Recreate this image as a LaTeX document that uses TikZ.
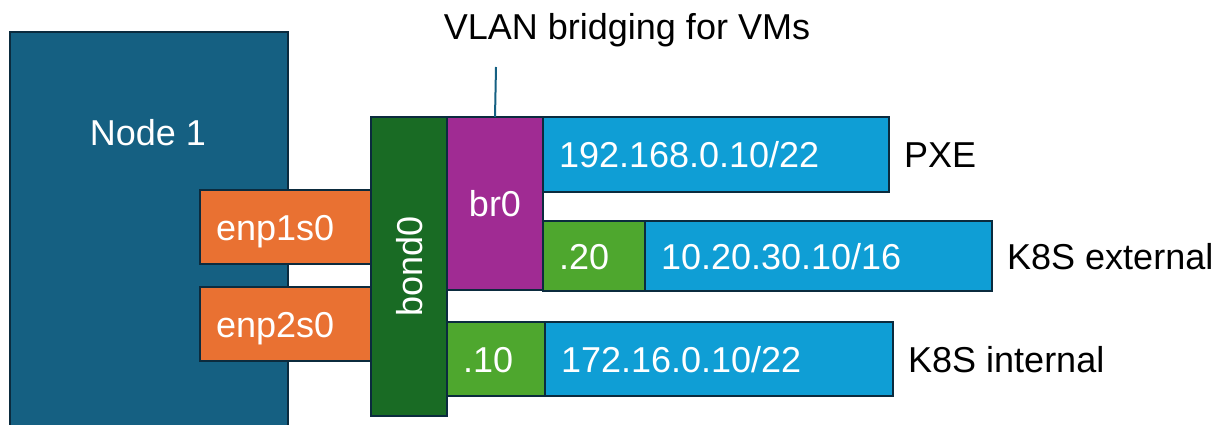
\documentclass[tikz,border=0pt]{standalone}
\usepackage{fontspec}
\setmainfont{Liberation Sans}
\usepackage{tikz}
\usetikzlibrary{positioning}

\definecolor{edgeblue}{HTML}{0B2B3E}
\definecolor{nodeblue}{HTML}{156082}
\definecolor{enporange}{HTML}{E97132}
\definecolor{bondgreen}{HTML}{196B24}
\definecolor{brpurple}{HTML}{A02B93}
\definecolor{ipblue}{HTML}{0F9ED5}
\definecolor{vlangreen}{HTML}{4EA72E}
\newcommand{\bigfont}{\fontsize{36}{40}\selectfont}

\begin{document}
\begin{tikzpicture}
	[   x=1pt,y=-1pt,
	    box/.style={draw=edgeblue,line width=2.5pt,fill=#1,anchor=north west,text=white,inner sep=0pt,outer sep=0pt,font=\bigfont,text height=26pt,text depth=0pt},
	    tbox/.style={text width=#1,inner xsep=16pt,align=left},
	    lab/.style={font=\bigfont,inner sep=0pt,text height=26pt,text depth=0pt},
	]
	\tikzset{vline/.style={draw=nodeblue,line width=2pt}}
	\useasboundingbox (0,0) rectangle (1231,425);
	\clip (0,0) rectangle (1231,425);

	\node[box=nodeblue,minimum width=278pt,minimum height=420pt] (node1) at (10,32) {};
	\node[lab,text=white] (node1-lab) at (148,133) {Node 1};

	\foreach \i/\y in {1/190,2/287}
	{
		\node[box=enporange,tbox=139pt,minimum height=74pt] (enp\i) at (200,\y) {enp\i s0};
	}

	\node[box=bondgreen,anchor=center,rotate=90,minimum width=299pt,minimum height=76pt] (bond0) at (409,266.5) {bond0};
	\node[box=brpurple,minimum width=96pt,minimum height=173pt] (br0) at (447,117) {br0};

	\node[box=ipblue,tbox=314pt,minimum height=75pt] (ip1) at (543,117) {192.168.0.10/22};
	\node[box=vlangreen,tbox=70pt,minimum height=70pt] (v20) at (543,221) {.20};
	\node[box=ipblue,tbox=315pt,minimum height=70pt,anchor=west,right=0pt of v20] (ip2) {10.20.30.10/16};
	\node[box=vlangreen,tbox=66pt,minimum height=74pt] (v10) at (447,322) {.10};
	\node[box=ipblue,tbox=316pt,minimum height=74pt,anchor=west,right=0pt of v10] (ip3) {172.16.0.10/22};

	\node[lab,right=15pt of ip1] (pxe) {PXE};
	\node[lab,right=15pt of ip2] (k8s-ext) {K8S external};
	\node[lab,right=15pt of ip3] (k8s-int) {K8S internal};

	\node[lab,anchor=base] (vlan) at (627,40) {VLAN bridging for VMs};
	\coordinate (vtop) at (496,67);
	\path[vline] (br0.north) -- (vtop);
\end{tikzpicture}
\end{document}
